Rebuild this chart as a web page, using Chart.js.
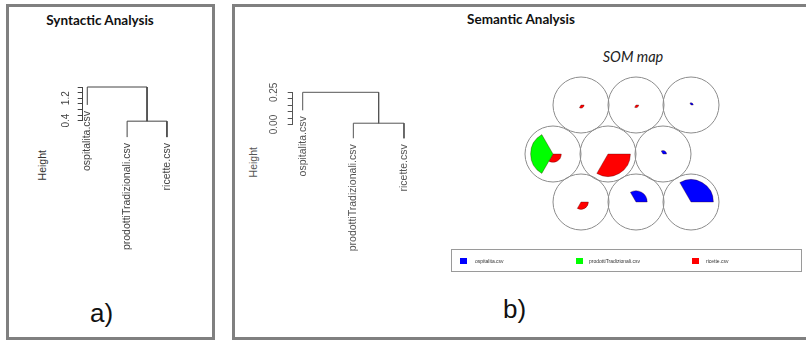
<!DOCTYPE html>
<html>
<head>
<meta charset="utf-8">
<script src="https://cdn.jsdelivr.net/npm/chart.js@4.4.1/dist/chart.umd.min.js"></script>
<style>
  body { margin: 0; background: #fff; width: 806px; height: 340px; overflow: hidden; position: relative; font-family: "Liberation Sans", Arial, sans-serif; }
  .frame { position: absolute; border: 3px solid #808080; box-sizing: border-box; }
  .abs { position: absolute; }
  .title { font-family: Lato, "Open Sans", sans-serif; font-weight: bold; font-size: 13.5px; line-height: 1; text-align: center; color: #111; }
  .ytitle { font-size: 10.5px; line-height: 1; transform: rotate(-90deg); transform-origin: center; white-space: nowrap; }
  .panel-tag { font-size: 26px; line-height: 1; color: #111; }
  .legend { border: 1px solid #9a9a9a; box-sizing: border-box; }
  .legend span { position: absolute; font-size: 5px; line-height: 1; color: #333; white-space: nowrap; }
  .legend i { position: absolute; width: 7px; height: 6px; }
</style>
</head>
<body>
<div class="frame" style="left:6px; top:4px; width:209px; height:336px;"></div>
<div class="frame" style="left:232px; top:4px; width:590px; height:336px;"></div>

<div class="abs title" style="left:0; width:200px; top:14px;">Syntactic Analysis</div>
<div class="abs title" style="left:421px; width:200px; top:13px;">Semantic Analysis</div>
<div class="abs" style="left:583px; width:100px; top:50px; text-align:center; font-family:Lato, sans-serif; font-style:italic; font-size:14.5px; line-height:1; color:#222;">SOM map</div>

<div class="abs ytitle" style="left:26px; top:160px; width:32px; text-align:center; color:#333;">Height</div>
<div class="abs ytitle" style="left:237px; top:157px; width:32px; text-align:center; color:#555;">Height</div>

<div class="abs panel-tag" style="left:90px; top:300px;">a)</div>
<div class="abs panel-tag" style="left:503px; top:296px;">b)</div>

<canvas id="dendroA" class="abs" style="left:0; top:0;" width="215" height="300"></canvas>
<canvas id="dendroB" class="abs" style="left:232px; top:0;" width="220" height="300"></canvas>
<div id="som"></div>

<div class="abs legend" style="left:451px; top:249px; width:351px; height:23px;">
  <i style="left:8px; top:8px; background:#0000ff;"></i><span style="left:23px; top:9px;">ospitalita.csv</span>
  <i style="left:124px; top:8px; background:#00ff00;"></i><span style="left:137px; top:9px;">prodottiTradizionali.csv</span>
  <i style="left:240px; top:8px; background:#ff0000;"></i><span style="left:254px; top:9px;">ricette.csv</span>
</div>

<script>
// leaves of both dendrograms (same three files)
const leafNames = ['ospitalita.csv', 'prodottiTradizionali.csv', 'ricette.csv'];

// a) syntactic: merge heights [ (2,3), (1,(2,3)) ] and where each leaf line ends
const mergeA = [0.38, 1.6];
const leafEndA = [0.96, -0.19, -0.19];
const ticksA = [0.4, 0.6, 0.8, 1.0, 1.2, 1.4, 1.6];
const tickLabelsA = ['0.4', '', '', '', '1.2', '', ''];

// b) semantic
const mergeB = [0.01, 0.25];
const leafEndB = [0.11, -0.107, -0.107];
const ticksB = [0, 0.05, 0.10, 0.15, 0.20, 0.25];
const tickLabelsB = ['0.00', '', '', '', '', '0.25'];

// SOM codebook (scaled per variable), units: top row, middle row, bottom row
const ospitalita = [0, 0, 0.1, 0, 0, 0.16, 0, 0.5, 1];
const prodotti   = [0, 0, 0, 1, 0, 0, 0, 0, 0];
const ricette    = [0.14, 0.12, 0, 0.37, 1, 0, 0.33, 0, 0];

const lineCol = '#555';

function dendroLines(merge, leafEnd) {
  return [
    [{x: 1, y: leafEnd[0]}, {x: 1, y: merge[1]}, {x: 2.5, y: merge[1]}, {x: 2.5, y: merge[0]}],
    [{x: 2, y: leafEnd[1]}, {x: 2, y: merge[0]}, {x: 3, y: merge[0]}, {x: 3, y: leafEnd[2]}]
  ];
}

function leafLabels(ends, color) {
  return {
    id: 'leafLabels',
    afterDatasetsDraw(chart) {
      const {ctx, scales: {x, y}} = chart;
      ctx.save();
      ctx.fillStyle = color;
      ctx.font = '10.5px "Liberation Sans", Arial, sans-serif';
      ctx.textAlign = 'right';
      ctx.textBaseline = 'middle';
      leafNames.forEach((name, i) => {
        ctx.save();
        ctx.translate(x.getPixelForValue(i + 1), y.getPixelForValue(ends[i]) + 6);
        ctx.rotate(-Math.PI / 2);
        ctx.fillText(name, 0, 0);
        ctx.restore();
      });
      ctx.restore();
    }
  };
}

function makeDendro(id, merge, leafEnd, ticks, tickLabels, yMin, yMax, xMin, xMax, pad, color) {
  new Chart(document.getElementById(id), {
    type: 'scatter',
    data: {
      datasets: dendroLines(merge, leafEnd).map(d => ({
        data: d, showLine: true, pointRadius: 0, borderColor: color,
        borderWidth: 1, clip: false, tension: 0
      }))
    },
    options: {
      responsive: false,
      animation: false,
      layout: {padding: pad},
      plugins: {legend: {display: false}, tooltip: {enabled: false}},
      scales: {
        x: {type: 'linear', display: false, min: xMin, max: xMax},
        y: {
          type: 'linear', min: yMin, max: yMax,
          afterBuildTicks: s => { s.ticks = ticks.map(v => ({value: v})); },
          afterFit: s => { s.width = 40; },
          grid: {drawOnChartArea: false, tickLength: 5, color: color},
          border: {display: true, color: color},
          ticks: {
            autoSkip: false, minRotation: 90, maxRotation: 90, crossAlign: 'center',
            padding: 4, color: color,
            font: {family: '"Liberation Sans", Arial, sans-serif', size: 10},
            callback: (v, i) => tickLabels[i]
          }
        }
      }
    },
    plugins: [leafLabels(leafEnd, color)]
  });
}

makeDendro('dendroA', mergeA, leafEndA, ticksA, tickLabelsA, 0.4, 1.6, 0.885, 3.3,
  {left: 42.7, right: 36.1, top: 87, bottom: 179.4}, '#444');
makeDendro('dendroB', mergeB, leafEndB, ticksB, tickLabelsB, 0, 0.25, 0.8026, 3.2,
  {left: 20.7, right: 37.9, top: 92.3, bottom: 175.5}, '#555');

// SOM map: one small polar chart per hexagonal unit
const somHost = document.getElementById('som');
const cell = 55, rowStep = 48.5, originX = 553, originY = 105;
for (let i = 0; i < 9; i++) {
  const row = Math.floor(i / 3), col = i % 3;
  const cx = originX + col * cell + (row === 1 ? 0 : cell / 2);
  const cy = originY + row * rowStep;
  const cv = document.createElement('canvas');
  cv.width = 58; cv.height = 58;
  cv.className = 'abs';
  cv.style.left = (cx - 29) + 'px';
  cv.style.top = (cy - 29) + 'px';
  somHost.appendChild(cv);
  const vals = [ricette[i], prodotti[i], ospitalita[i]];
  new Chart(cv, {
    type: 'polarArea',
    data: {
      labels: ['ricette.csv', 'prodottiTradizionali.csv', 'ospitalita.csv'],
      datasets: [{
        data: vals,
        backgroundColor: ['#ff0000', '#00ff00', '#0000ff'],
        borderColor: 'rgba(60,0,0,0.55)',
        borderWidth: ctx => (ctx.raw > 0 ? 0.6 : 0)
      }]
    },
    options: {
      responsive: false,
      animation: false,
      layout: {padding: 1},
      plugins: {legend: {display: false}, tooltip: {enabled: false}},
      scales: {
        r: {
          min: 0, max: 1.25, startAngle: 90,
          ticks: {display: false, stepSize: 1.25},
          grid: {circular: true, color: '#8c8c8c', lineWidth: 1},
          angleLines: {display: false},
          pointLabels: {display: false}
        }
      }
    }
  });
}
</script>
</body>
</html>
